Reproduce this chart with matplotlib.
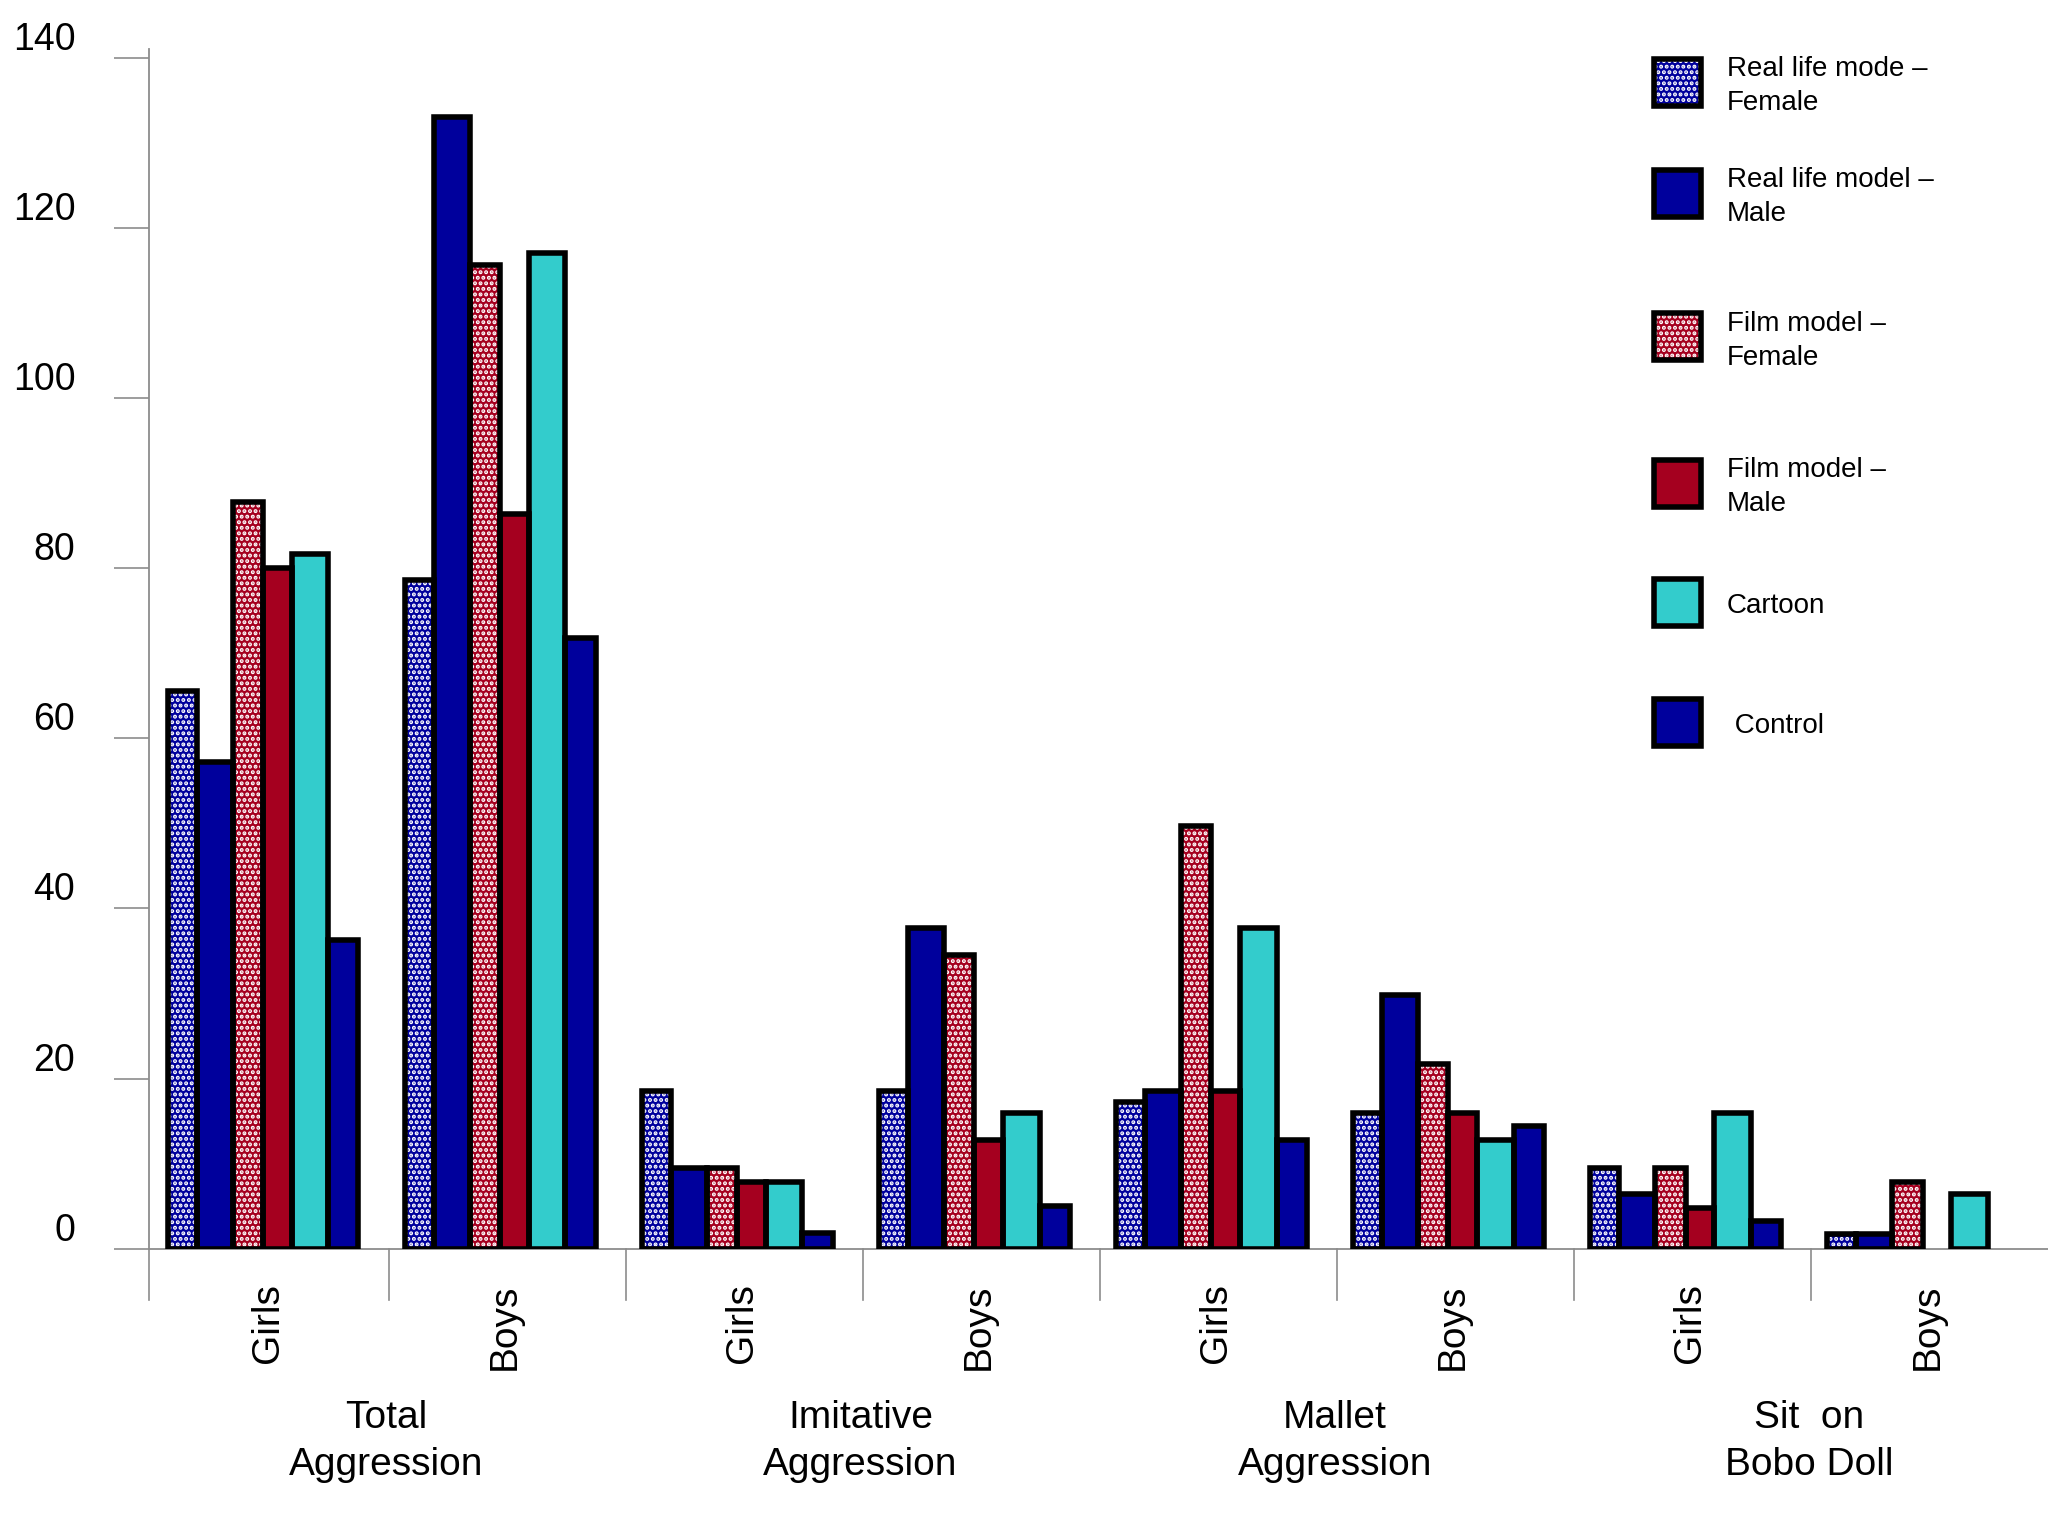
import numpy as np
import matplotlib
matplotlib.use('Agg')
import matplotlib.pyplot as plt
from matplotlib.patches import Rectangle
import matplotlib.transforms as mtransforms

plt.rcParams['font.family'] = ['Liberation Sans', 'DejaVu Sans']
plt.rcParams['hatch.linewidth'] = 2.0

# data
categories = ['Total\nAggression', 'Imitative\nAggression', 'Mallet\nAggression', 'Sit  on\nBobo Doll']
groups = ['Girls', 'Boys', 'Girls', 'Boys', 'Girls', 'Boys', 'Girls', 'Boys']

series_names = ['Real life mode –\nFemale', 'Real life model –\nMale', 'Film model –\nFemale',
                'Film model –\nMale', 'Cartoon', ' Control']
real_female = [65.5, 78.6, 18.6, 18.6, 17.2, 15.9, 9.5, 1.7]
real_male = [57.2, 133.0, 9.5, 37.7, 18.6, 29.8, 6.4, 1.7]
film_female = [87.8, 115.6, 9.5, 34.5, 49.7, 21.7, 9.5, 7.8]
film_male = [80.0, 86.3, 7.8, 12.8, 18.6, 15.9, 4.8, 0]
cartoon = [81.6, 117.0, 7.8, 15.9, 37.7, 12.8, 15.9, 6.4]
control = [36.3, 71.8, 1.9, 5.0, 12.8, 14.4, 3.3, 0]

all_series = [real_female, real_male, film_female, film_male, cartoon, control]

# styles
blue = '#00009C'
red = '#A5001F'
cyan = '#33CCCC'
colors = [blue, blue, red, red, cyan, blue]
dotted = [True, False, True, False, False, False]
widths = [0.121, 0.154, 0.127, 0.121, 0.154, 0.127]
gray = '#8C8C8C'

fig = plt.figure(figsize=(20.48, 15.36), dpi=100)
ax = fig.add_axes([0.0727, 0.187, 0.9273, 0.7811])

x = np.arange(len(groups))
total_w = sum(widths)
left = -total_w / 2
for k, vals in enumerate(all_series):
    pos = x + left + widths[k] / 2
    for xi, v in zip(pos, vals):
        if v <= 0:
            continue
        ax.bar(xi, v, width=widths[k], color=colors[k], linewidth=0, zorder=2)
        if dotted[k]:
            ax.bar(xi, v, width=widths[k], color='none', edgecolor='white',
                   hatch='...', linewidth=0, zorder=3)
        ax.bar(xi, v, width=widths[k], color='none', edgecolor='black',
               linewidth=4, zorder=4)
    left += widths[k]

ax.set_xlim(-0.482, 7.529)
ax.set_ylim(0, 141)

for s in ['top', 'right']:
    ax.spines[s].set_visible(False)
for s in ['left', 'bottom']:
    ax.spines[s].set_color(gray)
    ax.spines[s].set_linewidth(1.3)

ax.set_yticks(range(0, 141, 20))
ax.tick_params(axis='y', length=25, width=1.2, color=gray, labelsize=27, pad=28)
for lab in ax.get_yticklabels():
    lab.set_verticalalignment('bottom')
ax.set_xticks([])

# separators under the baseline
trans = mtransforms.blended_transform_factory(ax.transData, ax.transAxes)
for sx in list(x[:-1] + 0.53) + [-0.482]:
    ax.plot([sx, sx], [0, -0.043], color=gray, lw=1.2, transform=trans, clip_on=False)

for xi, g in zip(x, groups):
    ax.text(xi + 0.02, -0.029, g, rotation=90, ha='center', va='top',
            fontsize=28, transform=trans)

for i, c in enumerate(categories):
    ax.text(2 * i + 0.52, -0.126, c, ha='center', va='top', fontsize=28,
            linespacing=1.4, transform=trans)

# legend drawn by hand
W, H = 1568.0, 1176.0
leg_y = [63, 148, 258, 370, 461, 553]
sq = 36
for k, name in enumerate(series_names):
    cy = leg_y[k]
    rx, ry = 1266 / W, 1 - (cy + sq / 2) / H
    fig.add_artist(Rectangle((rx, ry), sq / W, sq / H, transform=fig.transFigure,
                             facecolor=colors[k], edgecolor='none', zorder=2))
    if dotted[k]:
        fig.add_artist(Rectangle((rx, ry), sq / W, sq / H, transform=fig.transFigure,
                                 facecolor='none', edgecolor='white', hatch='...',
                                 linewidth=0, zorder=3))
    fig.add_artist(Rectangle((rx, ry), sq / W, sq / H, transform=fig.transFigure,
                             facecolor='none', edgecolor='black', linewidth=4, zorder=4))
    fig.text(1322 / W, 1 - (cy + 3) / H, name, ha='left', va='center', fontsize=20,
             linespacing=1.4)

fig.savefig('out.png', dpi=100)
